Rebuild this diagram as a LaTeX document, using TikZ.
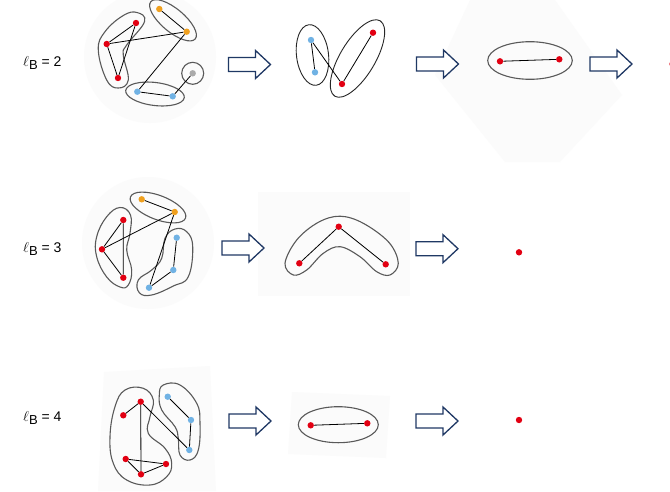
\documentclass[tikz,border=0pt]{standalone}
\usepackage{fontspec}
\setmainfont{Liberation Sans}
\definecolor{dotred}{RGB}{226,0,18}
\definecolor{dotorange}{RGB}{240,160,30}
\definecolor{dotblue}{RGB}{112,178,228}
\definecolor{dotgray}{RGB}{170,170,170}
\definecolor{navy}{RGB}{31,56,100}
\definecolor{bgfaint}{RGB}{251,251,251}
\begin{document}
\begin{tikzpicture}[x=1pt,y=-1pt,
  dot/.style={circle,inner sep=0pt,minimum size=6.4pt,draw=none},
  rd/.style={dot,fill=dotred},
  og/.style={dot,fill=dotorange},
  bl/.style={dot,fill=dotblue},
  gy/.style={dot,fill=dotgray},
  edge/.style={black,line width=0.8pt},
  hull/.style={draw=black!65,line width=1.1pt},
  thinhull/.style={draw=black!85,line width=0.9pt},
  barrow/.style={draw=navy,line width=1.3pt,fill=white,line join=miter},
  bgshape/.style={fill=bgfaint,draw=none},
  lab/.style={font=\fontsize{14}{16}\selectfont,anchor=west,inner sep=0pt}
]
\useasboundingbox (0,0) rectangle (670,491);
\fill[white] (0,0) rectangle (670,491);

% faint backgrounds
\fill[bgshape] (150,57) circle (66);
\fill[bgshape] (470,0) -- (555,0) -- (622,95) -- (560,162) -- (505,162) -- (435,75) -- cycle;
\fill[bgshape] (148,243) circle (66);
\fill[bgshape] (258,192) rectangle (410,296);
\fill[bgshape] (104,372) -- (210,366) -- (216,491) -- (98,491) -- cycle;
\fill[bgshape] (292,392) -- (390,396) -- (386,458) -- (288,454) -- cycle;

% block arrow pic
\tikzset{pics/blockarrow/.style={code={
  \draw[barrow] (0,-7) -- (27,-7) -- (27,-14) -- (42,0) -- (27,14) -- (27,7) -- (0,7) -- cycle;}}}

% labels
\node[lab] (L2) at (23,63) {{\fontsize{15}{16}\selectfont$\ell$}\raisebox{-2.5pt}{\fontsize{13}{14}\selectfont B} = 2};
\node[lab] (L3) at (23,249) {{\fontsize{15}{16}\selectfont$\ell$}\raisebox{-2.5pt}{\fontsize{13}{14}\selectfont B} = 3};
\node[lab] (L4) at (23,418) {{\fontsize{15}{16}\selectfont$\ell$}\raisebox{-2.5pt}{\fontsize{13}{14}\selectfont B} = 4};

% ===== Row 1 =====
\draw[hull] plot[smooth cycle,tension=0.7] coordinates {(123.3,15.5) (137,12.5) (144.5,21.7) (126.7,45) (123.3,55) (128.3,80) (118.3,88) (106.7,80) (98.3,50) (105,31.7)};
\draw[hull,rotate around={-40:(173,20.3)}] (173,20.3) ellipse [x radius=29, y radius=11.5];
\draw[hull] (192.7,73.3) circle (11);
\draw[hull,rotate around={-7:(155,94)}] (155,94) ellipse [x radius=29.5, y radius=11.5];
\node[rd] (a) at (136,23) {};
\node[rd] (b) at (106.7,44) {};
\node[rd] (c) at (118,78) {};
\node[og] (d) at (159.3,9) {};
\node[og] (e) at (186.7,31.7) {};
\node[gy] (f) at (192.7,73.3) {};
\node[bl] (g) at (137.3,91.7) {};
\node[bl] (h) at (172.7,96.3) {};
\draw[edge] (a) -- (b) -- (c) -- (a);
\draw[edge] (b) -- (e);
\draw[edge] (d) -- (e);
\draw[edge] (e) -- (g);
\draw[edge] (g) -- (h);
\draw[edge] (h) -- (f);

\pic at (228.5,64.5) {blockarrow};

\draw[thinhull,rotate around={-83:(312.5,55)}] (312.5,55) ellipse [x radius=30.5, y radius=16];
\draw[thinhull,rotate around={59:(357.5,58.5)}] (357.5,58.5) ellipse [x radius=44, y radius=17.5];
\node[bl] (i) at (311,40) {};
\node[bl] (j) at (315,72.3) {};
\node[rd] (k) at (342,84) {};
\node[rd] (l) at (373,32.7) {};
\draw[edge] (i) -- (j);
\draw[edge] (i) -- (k);
\draw[edge] (k) -- (l);

\pic at (416.5,64) {blockarrow};

\draw[hull] (530,60.5) ellipse [x radius=42.3, y radius=18.8];
\node[rd] (m) at (500,61.3) {};
\node[rd] (n) at (559.3,59.3) {};
\draw[edge] (m) -- (n);

\pic at (590,64) {blockarrow};
\node[rd] (o1) at (672.5,64) {};

% ===== Row 2 =====
\draw[hull,rotate around={-21:(158,207.5)}] (158,207.5) ellipse [x radius=29.5, y radius=12];
\draw[hull] plot[smooth cycle,tension=0.7] coordinates {(120,207.5) (130.5,215) (130,233.3) (126.7,250) (131.7,270) (128.3,285) (120,287) (106.7,277) (96.7,256.7) (96.7,236.7) (106.7,216.7)};
\draw[hull] plot[smooth cycle,tension=0.7] coordinates {(175,229) (186.7,231.7) (192.7,246.7) (188.3,276.7) (173.3,286) (151.7,295) (139.3,292.7) (138.3,280) (151.7,270) (161.7,258.3) (165,238.3)};
\node[og] (o) at (141.7,199.3) {};
\node[og] (p) at (174.7,212) {};
\node[rd] (q) at (123.3,220) {};
\node[rd] (r) at (102,249.3) {};
\node[rd] (s) at (123.3,277.7) {};
\node[bl] (t) at (176.7,237.7) {};
\node[bl] (u) at (173.3,270) {};
\node[bl] (v) at (149,287.7) {};
\draw[edge] (o) -- (p);
\draw[edge] (p) -- (r);
\draw[edge] (r) -- (q) -- (s) -- (r);
\draw[edge] (p) -- (v);
\draw[edge] (v) -- (u) -- (t);

\pic at (222,248) {blockarrow};

\draw[hull] plot[smooth cycle,tension=0.6] coordinates {(285,263.3) (296.7,240) (318,222.5) (340,216.2) (363.3,223.3) (389,242.5) (398.3,263.3) (390,275) (376.7,271.7) (360,256.7) (340,246.7) (323.3,253.3) (306.7,270) (293.3,275)};
\node[rd] (w) at (299.3,263.3) {};
\node[rd] (x) at (338.7,226.7) {};
\node[rd] (y) at (385.7,264.3) {};
\draw[edge] (w) -- (x) -- (y);

\pic at (416,248.7) {blockarrow};
\node[rd] (z2) at (519,252.3) {};

% ===== Row 3 =====
\draw[hull] plot[smooth cycle,tension=0.7] coordinates {(125,390) (143.3,388.3) (153.3,400) (150,416.7) (148.3,433.3) (165,448.3) (171.7,463.3) (166.7,476.7) (150,485) (126.7,480) (113.3,463.3) (110,436.7) (115,406.7)};
\draw[hull] plot[smooth cycle,tension=0.7] coordinates {(163.3,385) (180,385) (196.7,403.3) (200,423.3) (198.3,450) (190,460) (180,455) (178.3,438.3) (175,426.7) (161.7,410) (159.3,395)};
\node[rd] (A) at (140.7,401.7) {};
\node[rd] (B) at (123.3,415.3) {};
\node[rd] (C) at (125.7,459) {};
\node[rd] (D) at (141,474.3) {};
\node[rd] (E) at (166,464) {};
\node[bl] (F) at (167.7,396.7) {};
\node[bl] (G) at (191,420) {};
\node[bl] (H) at (189.3,450) {};
\draw[edge] (A) -- (B);
\draw[edge] (A) -- (D);
\draw[edge] (C) -- (D) -- (E) -- (C);
\draw[edge] (A) -- (H) -- (G) -- (F);

\pic at (229,421) {blockarrow};

\draw[hull] (338.3,424.7) ellipse [x radius=40, y radius=18];
\node[rd] (I) at (310.7,425.3) {};
\node[rd] (J) at (367.3,423.3) {};
\draw[edge] (I) -- (J);

\pic at (416,421) {blockarrow};
\node[rd] (z3) at (519,420) {};
\end{tikzpicture}
\end{document}
